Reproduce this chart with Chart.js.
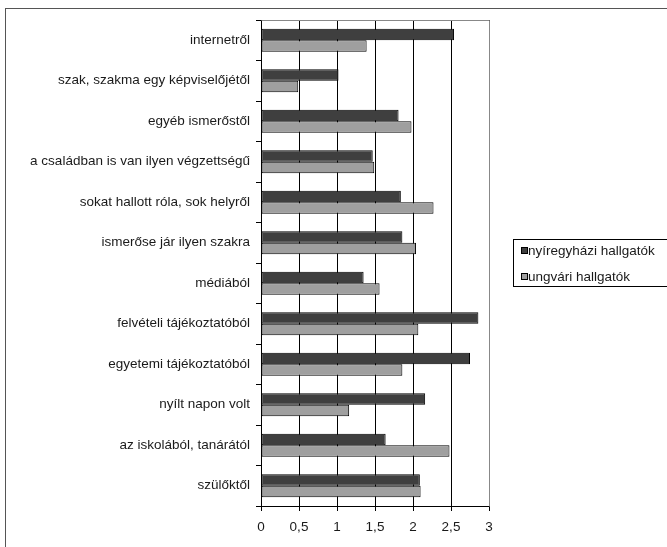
<!DOCTYPE html>
<html>
<head>
<meta charset="utf-8">
<script src="https://cdn.jsdelivr.net/npm/chart.js@4/dist/chart.umd.min.js"></script>
<style>
  html, body { margin: 0; padding: 0; background: #fff; }
  #wrap { width: 667px; height: 547px; position: relative; }
</style>
</head>
<body>
<div id="wrap"><canvas id="c" width="667" height="547"></canvas></div>
<script>
// Honnan hallottak a szakról – átlagpontszámok
const categories = [
  'internetről',
  'szak, szakma egy képviselőjétől',
  'egyéb ismerőstől',
  'a családban is van ilyen végzettségű',
  'sokat hallott róla, sok helyről',
  'ismerőse jár ilyen szakra',
  'médiából',
  'felvételi tájékoztatóból',
  'egyetemi tájékoztatóból',
  'nyílt napon volt',
  'az iskolából, tanárától',
  'szülőktől'
];
const seriesNames = ['nyíregyházi hallgatók', 'ungvári hallgatók'];
const nyiregyhaziValues = [2.54, 1.02, 1.81, 1.47, 1.84, 1.86, 1.35, 2.86, 2.75, 2.16, 1.64, 2.09];
const ungvariValues     = [1.39, 0.49, 1.98, 1.49, 2.27, 2.04, 1.56, 2.07, 1.86, 1.16, 2.48, 2.10];
const xTickLabels = ['0', '0,5', '1', '1,5', '2', '2,5', '3'];

const FONT = { family: '"Liberation Sans", Arial, sans-serif', size: 13.5 };
const TEXT = '#1a1a1a';

// Outer frame, plot-area frame and the boxed legend
const framePlugin = {
  id: 'frame',
  beforeDraw(chart) {
    const ctx = chart.ctx;
    ctx.save();
    ctx.fillStyle = '#fff';
    ctx.fillRect(0, 0, chart.width, chart.height);
    ctx.strokeStyle = '#555';
    ctx.lineWidth = 1;
    ctx.strokeRect(5.5, 8.5, chart.width + 20, chart.height + 20);
    ctx.restore();
  },
  afterDatasetsDraw(chart) {
    const ctx = chart.ctx;
    const a = chart.chartArea;
    ctx.save();
    ctx.strokeStyle = '#888';
    ctx.lineWidth = 1;
    ctx.beginPath();
    ctx.moveTo(Math.round(a.left) + 0.5, Math.round(a.top) + 0.5);
    ctx.lineTo(Math.round(a.right) + 0.5, Math.round(a.top) + 0.5);
    ctx.lineTo(Math.round(a.right) + 0.5, Math.round(a.bottom) + 0.5);
    ctx.stroke();
    ctx.restore();
  },
  afterDraw(chart) {
    const ctx = chart.ctx;
    const a = chart.chartArea;
    const boxLeft = a.right + 24, boxTop = 239, boxBottom = 286;
    ctx.save();
    ctx.strokeStyle = '#000';
    ctx.lineWidth = 1;
    ctx.strokeRect(boxLeft + 0.5, boxTop + 0.5, chart.width, boxBottom - boxTop);
    ctx.font = FONT.size + 'px ' + FONT.family;
    ctx.textBaseline = 'middle';
    ctx.textAlign = 'left';
    const rows = [251, 277];
    chart.data.datasets.forEach((ds, i) => {
      const y = rows[i];
      ctx.fillStyle = ds.backgroundColor;
      ctx.fillRect(boxLeft + 8, y - 3, 6, 6);
      ctx.strokeStyle = '#000';
      ctx.strokeRect(boxLeft + 8.5, y - 3.5, 6, 6);
      ctx.fillStyle = TEXT;
      ctx.fillText(ds.label, boxLeft + 15, y);
    });
    ctx.restore();
  }
};

new Chart(document.getElementById('c'), {
  type: 'bar',
  data: {
    labels: categories,
    datasets: [
      { label: seriesNames[0], data: nyiregyhaziValues, backgroundColor: '#3f3f3f',
        borderColor: '#000', borderWidth: 1, borderSkipped: false },
      { label: seriesNames[1], data: ungvariValues, backgroundColor: '#9f9f9f',
        borderColor: '#000', borderWidth: 1, borderSkipped: false }
    ]
  },
  options: {
    indexAxis: 'y',
    responsive: false,
    animation: false,
    devicePixelRatio: 1,
    categoryPercentage: 0.57,
    barPercentage: 1,
    layout: { padding: { left: 0, top: 20, right: 178, bottom: 0 } },
    plugins: { legend: { display: false }, tooltip: { enabled: false } },
    scales: {
      x: {
        min: 0, max: 3,
        afterFit(s) { s.height = 41; },
        afterBuildTicks(s) { s.ticks = xTickLabels.map((_, i) => ({ value: i * 0.5 })); },
        ticks: {
          stepSize: 0.5,
          color: TEXT,
          font: FONT,
          padding: 8,
          maxRotation: 0,
          callback: (v, i) => xTickLabels[i]
        },
        grid: {
          color: '#000',
          tickColor: '#000',
          tickLength: 5,
          drawOnChartArea: true
        },
        border: { display: true, color: '#000' }
      },
      y: {
        afterFit(s) { s.width = 261; },
        ticks: { color: TEXT, font: FONT, padding: 6 },
        grid: {
          offset: true,
          drawOnChartArea: false,
          color: '#000',
          tickColor: '#000',
          tickLength: 5
        },
        border: { display: true, color: '#000' }
      }
    }
  },
  plugins: [framePlugin]
});
</script>
</body>
</html>
